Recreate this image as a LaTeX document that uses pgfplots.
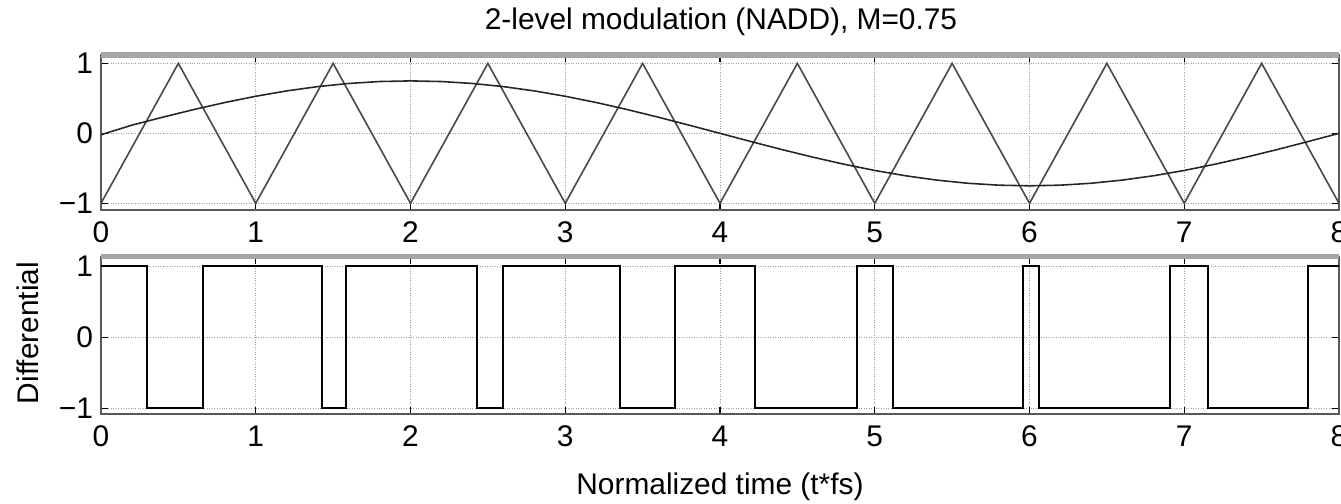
\documentclass[border=0pt]{standalone}
\usepackage{fontspec}
\setmainfont{Liberation Sans}
\usepackage{pgfplots}
\pgfplotsset{compat=1.18}

\definecolor{boxgray}{gray}{0.35}
\definecolor{topgray}{gray}{0.65}

\pgfplotsset{
  pwmaxis/.style={
    scale only axis, width=24.76cm,
    xmin=0, xmax=8, xtick={0,...,8},
    ytick={-1,0,1}, yticklabels={−1,0,1},
    grid=major,
    major grid style={densely dotted, gray!75},
    axis line style={boxgray, line width=0.8pt},
    tick style={black, line width=0.6pt},
    major tick length=4pt,
    tick label style={font=\fontsize{17}{20}\selectfont},
    xticklabel style={yshift=-3pt},
    yticklabel style={xshift=-1pt},
    /pgf/number format/assume math mode=true,
    after end axis/.code={
      \draw[topgray, line width=3pt] (rel axis cs:0,1) -- (rel axis cs:1,1);
    },
  },
}

\begin{document}
\begin{tikzpicture}
% top: carrier and reference
\begin{axis}[pwmaxis,
  at={(2.02cm,-4.2cm)}, anchor=south west,
  height=3.1cm, ymin=-1.096, ymax=1.12]
  \addplot[gray!20!black!80, line width=0.9pt] coordinates {
    (0,-1)(0.5,1)(1,-1)(1.5,1)(2,-1)(2.5,1)(3,-1)(3.5,1)(4,-1)
    (4.5,1)(5,-1)(5.5,1)(6,-1)(6.5,1)(7,-1)(7.5,1)(8,-1)
  };
  \addplot[black!85, line width=0.9pt] coordinates {
    (0,-0.02)(0.2,0.1173)(0.4,0.2318)(0.6,0.3405)(0.8,0.4408)(1.0,0.5303)
    (1.2,0.6068)(1.4,0.6683)(1.6,0.7133)(1.8,0.7408)(2.0,0.75)
    (2.2,0.7408)(2.4,0.7133)(2.6,0.6683)(2.8,0.6068)(3.0,0.5303)
    (3.2,0.4408)(3.4,0.3405)(3.6,0.2318)(3.8,0.1173)(4.0,0)
    (4.2,-0.1173)(4.4,-0.2318)(4.6,-0.3405)(4.8,-0.4408)(5.0,-0.5303)
    (5.2,-0.6068)(5.4,-0.6683)(5.6,-0.7133)(5.8,-0.7408)(6.0,-0.75)
    (6.2,-0.7408)(6.4,-0.7133)(6.6,-0.6683)(6.8,-0.6068)(7.0,-0.5303)
    (7.2,-0.4408)(7.4,-0.3405)(7.6,-0.2318)(7.8,-0.1173)(8.0,0)
  };
\end{axis}
% bottom: differential output
\begin{axis}[pwmaxis,
  at={(2.02cm,-8.28cm)}, anchor=south west,
  height=3.146cm, ymin=-1.08, ymax=1.13]
  \addplot[black, line width=1pt] coordinates {
    (0,1)(0.295,1)(0.295,-1)(0.661,-1)(0.661,1)(1.426,1)(1.426,-1)
    (1.581,-1)(1.581,1)(2.432,1)(2.432,-1)(2.596,-1)(2.596,1)(3.354,1)
    (3.354,-1)(3.709,-1)(3.709,1)(4.226,1)(4.226,-1)(4.883,-1)(4.883,1)
    (5.116,1)(5.116,-1)(5.956,-1)(5.956,1)(6.063,1)(6.063,-1)(6.908,-1)
    (6.908,1)(7.155,1)(7.155,-1)(7.802,-1)(7.802,1)(8,1)
  };
\end{axis}
\node[font=\fontsize{17}{20}\selectfont] at (14.42cm,-0.44cm) {2-level modulation (NADD), M=0.75};
\node[font=\fontsize{17}{20}\selectfont, rotate=90] at (0.56cm,-6.66cm) {Differential};
\node[font=\fontsize{17}{20}\selectfont] at (14.4cm,-9.74cm) {Normalized time (t*fs)};
\pgfresetboundingbox
\useasboundingbox (0,0) rectangle (26.82cm,-10.06cm);
\end{tikzpicture}
\end{document}
